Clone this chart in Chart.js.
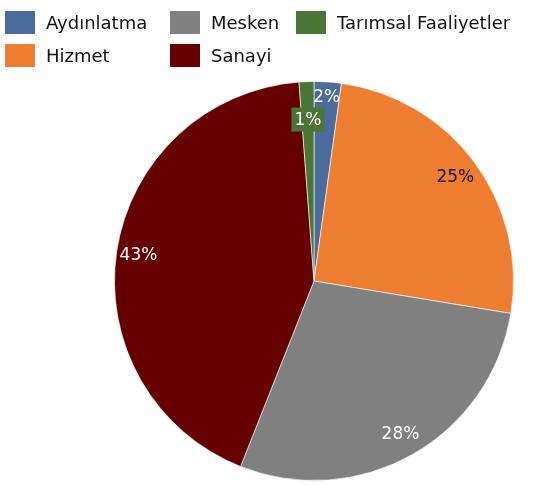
<!DOCTYPE html>
<html>
<head>
<meta charset="utf-8">
<script src="https://cdn.jsdelivr.net/npm/chart.js@4"></script>
<style>
  body { margin:0; background:#fff; }
  #wrap { position:relative; width:542px; height:485px; }
  #legend {
    position:absolute; left:5px; top:6px;
    display:grid; grid-template-columns:165px 126px auto; grid-auto-flow:column; grid-template-rows:33px 33px;
    font-family:"DejaVu Sans",sans-serif; font-size:18px; color:#111;
  }
  #legend div { display:flex; align-items:center; white-space:nowrap; }
  #legend span { display:inline-block; width:30px; height:23px; margin-right:11px; }
</style>
</head>
<body>
<div id="wrap">
  <canvas id="chart" width="542" height="485"></canvas>
  <div id="legend"></div>
</div>
<script>
// Data
const categories = ['Aydınlatma', 'Hizmet', 'Mesken', 'Sanayi', 'Tarımsal Faaliyetler'];
const shares = [2.2, 25.4, 28.4, 42.8, 1.2];
const pctLabels = ['2%', '25%', '28%', '43%', '1%'];
const colors = ['#4a6b9c', '#ed7d31', '#808080', '#660000', '#4a7534'];
const labelColors = ['#fff', '#111', '#fff', '#fff', '#fff'];

// legend (column-major, like the original)
const legend = document.getElementById('legend');
[0, 1, 2, 3, 4].forEach(i => {
  const d = document.createElement('div');
  d.innerHTML = '<span style="background:' + colors[i] + '"></span>' + categories[i];
  legend.appendChild(d);
});

// label radius per slice (fraction of outer radius)
const labelPos = [0.925, 0.88, 0.88, 0.89, 0.81];

const pctPlugin = {
  id: 'pct',
  afterDatasetsDraw(chart) {
    const ctx = chart.ctx;
    const meta = chart.getDatasetMeta(0);
    ctx.save();
    ctx.font = '17px "DejaVu Sans", sans-serif';
    ctx.textAlign = 'center';
    ctx.textBaseline = 'middle';
    meta.data.forEach((arc, i) => {
      const mid = (arc.startAngle + arc.endAngle) / 2;
      const r = arc.outerRadius * labelPos[i];
      const x = arc.x + Math.cos(mid) * r;
      const y = arc.y + Math.sin(mid) * r;
      if (i === 4) {
        const w = ctx.measureText(pctLabels[i]).width + 6;
        ctx.fillStyle = colors[i];
        ctx.fillRect(x - w / 2, y - 12, w, 24);
      }
      ctx.fillStyle = labelColors[i];
      ctx.fillText(pctLabels[i], x, y + 1);
    });
    ctx.restore();
  }
};

new Chart(document.getElementById('chart'), {
  type: 'pie',
  data: {
    labels: categories,
    datasets: [{
      data: shares,
      backgroundColor: colors,
      borderColor: 'rgba(255,255,255,0.6)',
      borderWidth: 1
    }]
  },
  options: {
    responsive: false,
    animation: false,
    layout: { padding: { left: 114, right: 28, top: 81, bottom: 4 } },
    plugins: { legend: { display: false }, tooltip: { enabled: false } }
  },
  plugins: [pctPlugin]
});
</script>
</body>
</html>
